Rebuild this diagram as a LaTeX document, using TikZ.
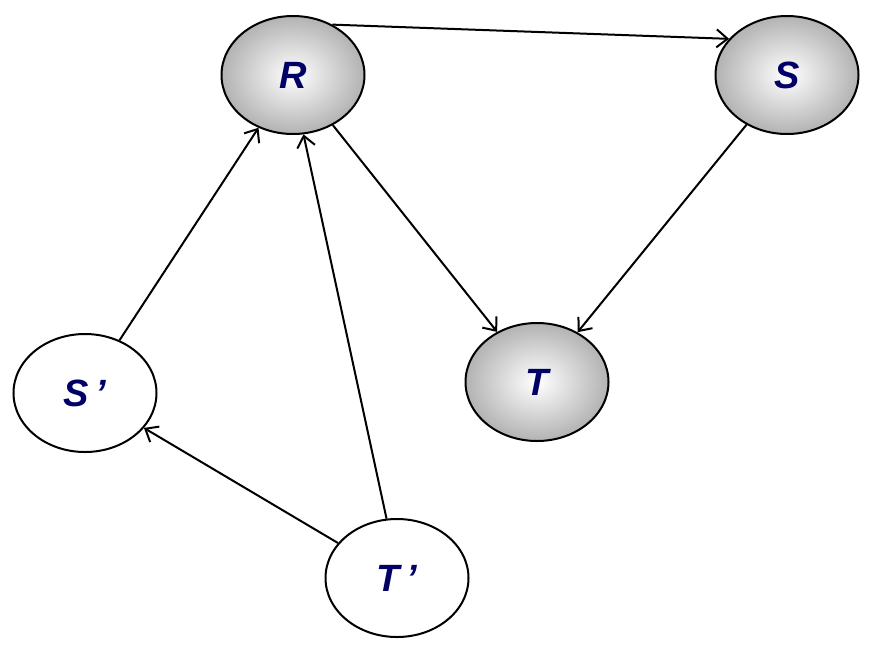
\documentclass[tikz,border=0pt]{standalone}
\usepackage{fontspec}
\setmainfont{Liberation Sans}
\usepackage{tikz}
\usetikzlibrary{arrows.meta,shapes.geometric}

\begin{document}
\begin{tikzpicture}[
  x=1pt, y=-1pt,
  var/.style={draw, line width=2pt, ellipse, minimum width=143pt, minimum height=118pt,
    font=\fontsize{38}{42}\selectfont\bfseries\itshape, text=blue!40!black},
  obs/.style={var, inner color=white, outer color=black!30},
  arrow/.style={-{Straight Barb[length=11pt,width=18pt]}, line width=2pt}
]
\useasboundingbox (0,0) rectangle (880,659);
\node[obs] (r) at (293,75) {R};
\node[obs] (s) at (787,75) {S};
\node[obs] (t) at (537,382) {T};
\node[var] (sp) at (85,393) {S\,'};
\node[var] (tp) at (397,578) {T\,'};

\draw[arrow] (r.52) -- (s.148);
\draw[arrow] (r) -- (t);
\draw[arrow] (s) -- (t);
\draw[arrow] (sp) -- (r);
\draw[arrow] (tp.100) -- (r.280);
\draw[arrow] (tp) -- (sp);

\end{tikzpicture}
\end{document}
